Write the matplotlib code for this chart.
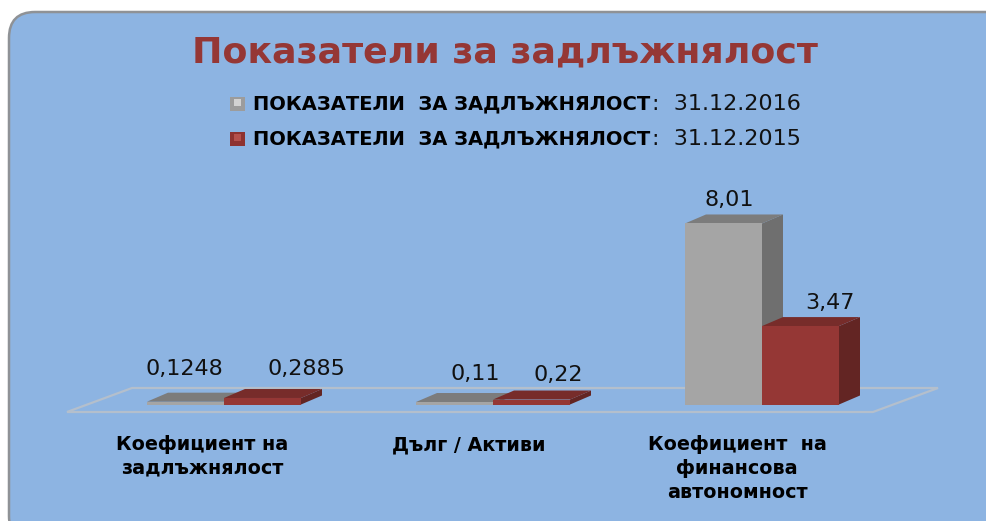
import matplotlib
matplotlib.use('Agg')
import matplotlib.pyplot as plt
from matplotlib.patches import FancyBboxPatch, Polygon, Rectangle

# data
categories = ['Коефициент на\nзадлъжнялост', 'Дълг / Активи', 'Коефициент  на\nфинансова\nавтономност']
values_2016 = [0.1248, 0.11, 8.01]
values_2015 = [0.2885, 0.22, 3.47]
labels_2016 = ['0,1248', '0,11', '8,01']
labels_2015 = ['0,2885', '0,22', '3,47']
legend_name = 'ПОКАЗАТЕЛИ  ЗА ЗАДЛЪЖНЯЛОСТ'
legend_dates = ['31.12.2016', '31.12.2015']
title = 'Показатели за задлъжнялост'

W, H = 987, 521
BASE = 404.5
SCALE = 22.6
DX, DY = 21, 9
BAR_W = 77
group_left = [147, 416, 685]
cat_x = [202, 469, 737]

fig = plt.figure(figsize=(W / 100, H / 100), dpi=100, facecolor='white')

# background axes in pixels, used for the frame and all the text
bg = fig.add_axes([0, 0, 1, 1])
bg.set_xlim(0, W)
bg.set_ylim(H, 0)
bg.axis('off')

bg.add_patch(FancyBboxPatch((9, 12), 1002, 530, boxstyle='round,pad=0,rounding_size=26',
                            fc='#8DB4E2', ec='#8F9296', lw=1.8))

# floor
floor = [(67, 412), (132, 388), (938, 388), (873, 412)]
bg.add_patch(Polygon(floor, closed=True, fc='none', ec='#B4BFCC', lw=1.6))

# chart axes: x in pixels, y in chart values
ax = fig.add_axes([0, 0, 1, 1])
ax.set_xlim(0, W)
ax.set_ylim((BASE - H) / SCALE, BASE / SCALE)
ax.axis('off')
ax.patch.set_alpha(0)
d_val = DY / SCALE


def bar3d(x, v, front, side, top):
    ax.add_patch(Polygon([(x + BAR_W, 0), (x + BAR_W + DX, d_val), (x + BAR_W + DX, v + d_val), (x + BAR_W, v)],
                         fc=side, ec='none'))
    ax.add_patch(Polygon([(x, v), (x + DX, v + d_val), (x + BAR_W + DX, v + d_val), (x + BAR_W, v)],
                         fc=top, ec='none'))
    ax.add_patch(Rectangle((x, 0), BAR_W, v, fc=front, ec='none'))


for i in range(3):
    x = group_left[i]
    bar3d(x, values_2016[i], '#A5A5A5', '#6F6F6F', '#7C7C7C')
    bar3d(x + BAR_W, values_2015[i], '#953735', '#632523', '#772C2A')

# data labels
label_font = dict(family='DejaVu Sans', fontsize=16, color='#111111', ha='center', va='baseline')
label_y_2016 = [375, 380, 206]
label_y_2015 = [375, 381, 309]
label_x_2016 = [184, 475, 729]
label_x_2015 = [306, 558, 830]
for i in range(3):
    bg.text(label_x_2016[i], label_y_2016[i], labels_2016[i], **label_font)
    bg.text(label_x_2015[i], label_y_2015[i], labels_2015[i], **label_font)

# category labels
line_y = [445, 468, 493]
for i, cat in enumerate(categories):
    for j, line in enumerate(cat.split('\n')):
        bg.text(cat_x[i], line_y[j], line, family='DejaVu Sans', fontweight='bold', fontsize=13.8,
                color='black', ha='center', va='center')

# title
bg.text(505, 52, title, family='DejaVu Sans', fontweight='bold', fontsize=26.2, color='#953735',
        ha='center', va='center')

# legend
legend_y = [104, 139]
swatch = ['#9C9C9C', '#8E3230']
swatch_mid = ['#D2D2D2', '#B5504C']
for i in range(2):
    bg.add_patch(Rectangle((230, legend_y[i] - 7), 15, 14, fc=swatch[i], ec='none'))
    bg.add_patch(Rectangle((234, legend_y[i] - 5), 7, 7, fc=swatch_mid[i], ec='none'))
    bg.text(253, legend_y[i], legend_name, family='DejaVu Sans', fontweight='bold', fontsize=14.05,
            color='black', ha='left', va='center')
    bg.text(652, legend_y[i], ':  ' + legend_dates[i], family='DejaVu Sans', fontsize=16,
            color='#111111', ha='left', va='center')

fig.savefig('out.png', dpi=100)
